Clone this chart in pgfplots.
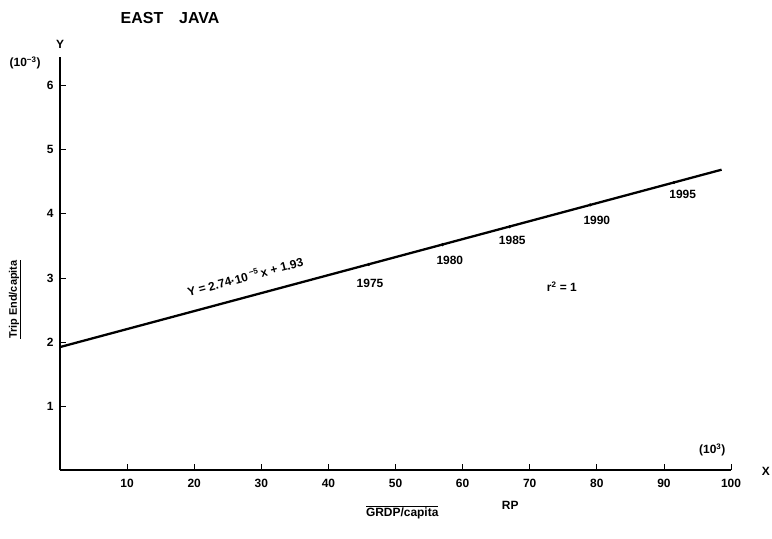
\documentclass[border=0pt]{standalone}
\usepackage{pgfplots}
\pgfplotsset{compat=1.18}
\usepackage{fontspec}
\setmainfont{Liberation Sans}
\begin{document}
\begin{tikzpicture}
\path[use as bounding box] (-60bp,-69bp) rectangle (712bp,470bp);
\begin{axis}[
  at={(0,0)}, anchor=origin,
  scale only axis, width=671bp, height=413bp,
  xmin=0, xmax=100, ymin=0, ymax=6.45,
  axis x line=bottom, axis y line=left,
  axis line style={-, line width=1.8pt},
  tick align=inside,
  major tick length=6bp,
  tick style={black, line width=0.8pt},
  xtick={10,20,...,100}, ytick={1,2,...,6},
  tick label style={font=\fontsize{12}{14}\selectfont\bfseries},
  xticklabel style={yshift=-6bp},
  yticklabel style={xshift=-3bp},
  /pgf/number format/assume math mode=true,
  clip=false,
]
\addplot[black, line width=2.3pt] coordinates {(0,1.92) (98.6,4.69)};
\addplot[only marks, mark=*, mark size=1.4pt, black] coordinates {(46,3.21) (57,3.52) (67,3.80) (79,4.14) (91.5,4.49)};
\begin{scope}[font=\fontsize{12}{14}\selectfont\bfseries]
\node at (axis cs:46.2,2.92) {1975};
\node at (axis cs:58.1,3.27) {1980};
\node at (axis cs:67.4,3.59) {1985};
\node at (axis cs:80,3.90) {1990};
\node at (axis cs:92.8,4.30) {1995};
\node at (axis cs:74.8,2.86) {r\textsuperscript{2} = 1};
\node[rotate=15] at (axis cs:27.6,3.02) {Y = 2.74·10\,\textsuperscript{−5}\,x + 1.93};
\node at (axis cs:0,6.64) {Y};
\node at (axis cs:-5.2,6.36) {(10\textsuperscript{−3})};
\node at (axis cs:97.2,0.31) {(10\textsuperscript{3})};
\node at (axis cs:105.2,-0.02) {X};
\node at (axis cs:51,-0.66) {$\overline{\mbox{\bfseries GRDP/capita}}$};
\node at (axis cs:67.1,-0.56) {RP};
\node[rotate=90, font=\fontsize{11}{13}\selectfont\bfseries] at (axis cs:-6.7,2.66) {\underline{Trip End/capita}};
\end{scope}
\node[font=\fontsize{16}{19}\selectfont\bfseries] at (axis cs:16.4,7.06) {EAST\quad JAVA};
\end{axis}
\end{tikzpicture}
\end{document}
